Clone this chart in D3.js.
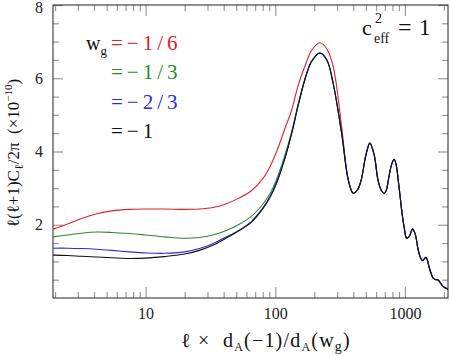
<!DOCTYPE html>
<html>
<head>
<meta charset="utf-8">
<script src="https://cdn.jsdelivr.net/npm/d3@7"></script>
<style>
  body { margin: 0; background: #fff; }
  .tick line { stroke: #9a9a9a; stroke-width: 1.2; }
  .curve { fill: none; stroke-width: 1.1; }
</style>
</head>
<body>
<div id="chart"></div>
<script>
'use strict';

// multipole values (x) where the four curves still differ
const ellHead = [1.93, 2.5, 3.2, 4.2, 5.5, 7.5, 10, 14, 20, 26, 33, 41, 52, 65, 81, 92, 102, 118, 134, 150, 169, 190, 221, 250, 280, 325];

// D_l in units of 1e-10, one list per w_g
const clRed   = [1.88, 2.02, 2.17, 2.30, 2.38, 2.42, 2.43, 2.43, 2.42, 2.43, 2.47, 2.56, 2.72, 2.92, 3.28, 3.62, 3.98, 4.60, 5.14, 5.80, 6.32, 6.75, 6.97, 6.80, 6.32, 4.68];
const clGreen = [1.67, 1.72, 1.77, 1.80, 1.79, 1.76, 1.72, 1.67, 1.63, 1.65, 1.72, 1.83, 2.00, 2.22, 2.58, 2.88, 3.22, 3.87, 4.55, 5.28, 5.96, 6.45, 6.69, 6.50, 5.85, 4.50];
const clBlue  = [1.36, 1.36, 1.35, 1.33, 1.30, 1.26, 1.23, 1.22, 1.26, 1.35, 1.48, 1.65, 1.84, 2.08, 2.48, 2.80, 3.15, 3.80, 4.50, 5.25, 5.96, 6.45, 6.69, 6.50, 5.85, 4.50];
const clBlack = [1.17, 1.16, 1.14, 1.12, 1.10, 1.08, 1.09, 1.13, 1.20, 1.30, 1.44, 1.62, 1.83, 2.06, 2.46, 2.78, 3.12, 3.78, 4.50, 5.25, 5.96, 6.45, 6.69, 6.50, 5.85, 4.50];

// beyond the first peak all four curves lie on top of each other
const ellTail = [366, 399, 430, 460, 500, 537, 580, 620, 660, 692, 720, 745, 790, 827, 860, 888, 920, 948, 990, 1031, 1080, 1146, 1200, 1260, 1320, 1369, 1453, 1550, 1652, 1730, 1806, 1890, 1974, 2150];
const clTail  = [3.22, 2.86, 2.95, 3.22, 3.90, 4.23, 3.90, 3.22, 2.93, 2.86, 2.95, 3.22, 3.65, 3.79, 3.60, 3.22, 2.75, 2.35, 1.90, 1.63, 1.68, 1.88, 1.75, 1.35, 1.10, 1.02, 1.11, 0.80, 0.54, 0.50, 0.49, 0.40, 0.31, 0.24];

const seriesNames  = ['−1/6', '−1/3', '−2/3', '−1'];
const seriesColors = ['#e4202a', '#2a8a2a', '#2a2ae4', '#111111'];
const seriesValues = [clRed, clGreen, clBlue, clBlack];

const xMajor = [10, 100, 1000];
const xMinor = [2, 3, 4, 5, 6, 7, 8, 9, 20, 30, 40, 50, 60, 70, 80, 90, 200, 300, 400, 500, 600, 700, 800, 900, 2000];
const yMajor = [2, 4, 6, 8];
const yMinor = [0.5, 1, 1.5, 2.5, 3, 3.5, 4.5, 5, 5.5, 6.5, 7, 7.5];

const width = 450, height = 356;
const plot = { left: 53, right: 448, top: 5, bottom: 298 };
const font = '"Liberation Serif", "DejaVu Serif", serif';
const gap = '\u00a0';

const svg = d3.select('#chart')
    .append('svg')
    .attr('width', width)
    .attr('height', height)
    .attr('font-family', font);

const x = d3.scaleLog().domain([1.93, 2150]).range([plot.left, plot.right]);
const y = d3.scaleLinear().domain([0, 8]).range([plot.bottom, plot.top]);

// ticks all point inward, on all four sides
function tickAxis(axisFn, scale, values, size, pad, labels) {
    const a = axisFn(scale).tickValues(values).tickSize(-size).tickSizeOuter(0).tickPadding(pad);
    a.tickFormat(labels ? d3.format('d') : '');
    return a;
}

function drawAxis(axis, tx, ty) {
    const g = svg.append('g')
        .attr('transform', 'translate(' + [tx, ty] + ')')
        .call(axis)
        .attr('font-family', font)
        .attr('font-size', 16);
    g.select('.domain').remove();
    g.selectAll('text').attr('fill', '#222');
    return g;
}

drawAxis(tickAxis(d3.axisBottom, x, xMinor, 6, 0, false), 0, plot.bottom);
drawAxis(tickAxis(d3.axisBottom, x, xMajor, 11, 10, true), 0, plot.bottom);
drawAxis(tickAxis(d3.axisTop, x, xMinor, 6, 0, false), 0, plot.top);
drawAxis(tickAxis(d3.axisTop, x, xMajor, 11, 0, false), 0, plot.top);
drawAxis(tickAxis(d3.axisLeft, y, yMinor, 6, 0, false), plot.left, 0);
drawAxis(tickAxis(d3.axisLeft, y, yMajor, 10, 10, true), plot.left, 0)
    .selectAll('text')
    .attr('dy', function(d) { return d === 8 ? '0.45em' : '0.32em'; });
drawAxis(tickAxis(d3.axisRight, y, yMinor, 6, 0, false), plot.right, 0);
drawAxis(tickAxis(d3.axisRight, y, yMajor, 10, 0, false), plot.right, 0);

svg.append('rect')
    .attr('x', plot.left)
    .attr('y', plot.top)
    .attr('width', plot.right - plot.left)
    .attr('height', plot.bottom - plot.top)
    .attr('fill', 'none')
    .attr('stroke', '#222')
    .attr('stroke-width', 1);

svg.append('clipPath')
    .attr('id', 'plot-clip')
    .append('rect')
    .attr('x', plot.left)
    .attr('y', plot.top)
    .attr('width', plot.right - plot.left)
    .attr('height', plot.bottom - plot.top);

const line = d3.line()
    .x(function(d) { return x(d[0]); })
    .y(function(d) { return y(d[1]); })
    .curve(d3.curveCatmullRom.alpha(0.5));

const curves = seriesValues.map(function(vals) {
    const head = ellHead.map(function(l, i) { return [l, vals[i]]; });
    const tail = ellTail.map(function(l, i) { return [l, clTail[i]]; });
    return head.concat(tail);
});

svg.append('g')
    .attr('clip-path', 'url(#plot-clip)')
    .selectAll('.curve')
    .data(curves)
    .enter()
        .append('path')
        .classed('curve', true)
        .attr('stroke', function(d, i) { return seriesColors[i]; })
        .attr('d', line);

// text with sub/superscripts: parts are [text, size, dy]
function richText(parent, parts) {
    parts.forEach(function(p) {
        const t = parent.append('tspan')
            .attr('font-size', p[1])
            .text(p[0]);
        if (p[2]) t.attr('dy', p[2]);
    });
    return parent;
}

// legend
svg.append('text')
    .attr('x', 86).attr('y', 50)
    .attr('font-size', 20)
    .attr('fill', '#111')
    .call(function(t) { richText(t, [['w', 20], ['g', 13, 5]]); });

svg.selectAll('.legend-item')
    .data(seriesNames)
    .enter()
        .append('text')
        .classed('legend-item', true)
        .attr('x', 111)
        .attr('y', function(d, i) { return 50 + i * 29.3; })
        .attr('font-size', 21)
        .attr('letter-spacing', 4)
        .attr('fill', function(d, i) { return seriesColors[i]; })
        .text(function(d) { return '=' + d; });

// c_eff^2 = 1
const ceff = svg.append('text')
    .attr('x', 362).attr('y', 35)
    .attr('font-size', 22)
    .attr('fill', '#111');
ceff.append('tspan').text('c');
ceff.append('tspan').attr('x', 375).attr('y', 23).attr('font-size', 14).text('2');
ceff.append('tspan').attr('x', 374).attr('y', 43).attr('font-size', 14).text('eff');
ceff.append('tspan').attr('x', 398).attr('y', 35).attr('font-size', 24).text('=');
ceff.append('tspan').attr('x', 419).attr('y', 35).attr('font-size', 23).text('1');

// axis titles
svg.append('text')
    .attr('transform', 'translate(19,153) rotate(-90)')
    .attr('text-anchor', 'middle')
    .attr('font-size', 17)
    .attr('fill', '#111')
    .call(function(t) {
        richText(t, [['ℓ(ℓ+1)C', 17], ['ℓ', 12, 4], ['/2π' + gap + gap + '(×10', 17, -4], ['−10', 11, -7], [')', 17, 7]]);
    });

svg.append('text')
    .attr('x', 266).attr('y', 347)
    .attr('text-anchor', 'middle')
    .attr('font-size', 20)
    .attr('letter-spacing', 1.2)
    .attr('fill', '#111')
    .call(function(t) {
        richText(t, [['ℓ' + gap + '×' + gap + gap + 'd', 20], ['A', 12, 4], ['(−1)/d', 20, -4], ['A', 12, 4], ['(w', 20, -4], ['g', 14, 4], [')', 20, -4]]);
    });
</script>
</body>
</html>
